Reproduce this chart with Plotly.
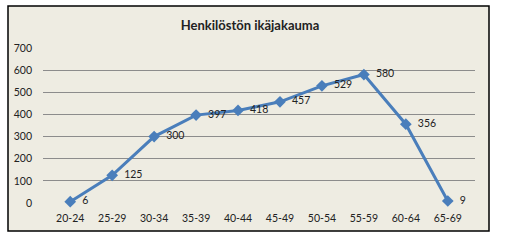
import plotly.graph_objects as go

categories = ["20-24", "25-29", "30-34", "35-39", "40-44", "45-49", "50-54", "55-59", "60-64", "65-69"]
values = [6, 125, 300, 397, 418, 457, 529, 580, 356, 9]
y_ticks = [0, 100, 200, 300, 400, 500, 600, 700]

L, R, T, B = 43, 31, 48, 44
W, H = 506, 247
pw, ph = W - L - R, H - T - B

def px(x):
    return (x - L) / pw

def py(y):
    return (H - B - y) / ph

FONT = "Lato, Liberation Sans, sans-serif"

fig = go.Figure()
fig.add_trace(go.Scatter(
    x=categories, y=values, mode="lines+markers+text",
    text=["  " + str(v) for v in values], textposition="middle right",
    textfont=dict(family=FONT, size=10.5, color="#222222"),
    line=dict(color="#4A7EBB", width=3),
    marker=dict(symbol="diamond", size=9, color="#4A7EBB"),
    cliponaxis=False,
))

fig.add_shape(type="rect", xref="paper", yref="paper",
              x0=px(8), x1=px(489), y0=py(231), y1=py(6),
              line=dict(color="black", width=1.5), fillcolor="#EEECE2", layer="below")

fig.update_layout(
    width=W, height=H,
    margin=dict(l=L, r=R, t=T, b=B),
    paper_bgcolor="white", plot_bgcolor="white",
    showlegend=False,
    title=dict(text="<b>Henkilöstön ikäjakauma</b>", x=250 / W, xanchor="center",
               y=1 - 25 / H, yanchor="middle",
               font=dict(family=FONT, size=13, color="#222222")),
    font=dict(family=FONT, size=10.5, color="#222222"),
)
fig.update_xaxes(type="category", showgrid=False, showline=False, zeroline=False,
                 ticks="", ticklabelstandoff=7, tickfont=dict(size=10.5))
fig.update_yaxes(range=[0, 700], tickvals=y_ticks, showgrid=True, gridcolor="#8C8C8C",
                 gridwidth=1, zeroline=False, showline=False, ticks="",
                 ticklabelstandoff=10, tickfont=dict(size=10.5))

fig.write_html("out.html")
